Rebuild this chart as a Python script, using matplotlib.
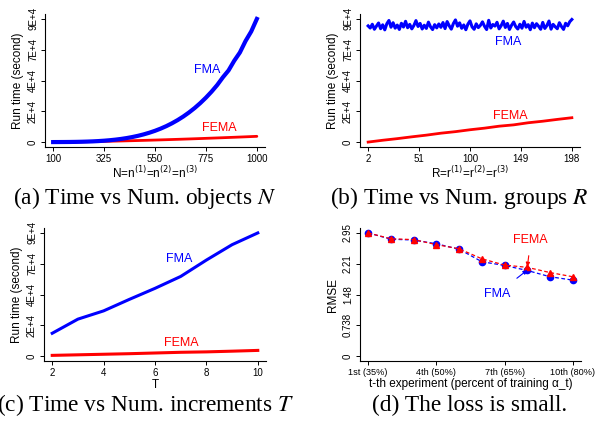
#! /usr/bin/env python3

# Run time and RMSE comparison of FMA vs FEMA, four panels in R base style

import numpy as np
import matplotlib
matplotlib.use("Agg")
import matplotlib.pyplot as plt

plt.rcParams['font.family'] = ['Liberation Sans', 'DejaVu Sans']

BLUE = "#0000ff"
RED = "#ff0000"

# ---- data -----------------------------------------------------------------
time_ticks = [0, 22000, 44000, 66000, 88000]
time_labels = ["0", "2E+4", "4E+4", "7E+4", "9E+4"]

# (a) time vs number of objects N
n_fma = list(range(100, 1001, 25))
fma_a = [0, 20, 45, 80, 140, 225, 345, 500, 710, 980, 1320, 1740, 2250,
         2870, 3610, 4480, 5500, 6690, 8050, 9620, 11400, 13430, 15710,
         18260, 21130, 24300, 27840, 31740, 36040, 40800, 46300, 51200,
         58100, 64000, 72200, 79000, 88000]
n_fema = list(range(100, 1001, 50))
fema_a = [0, 54, 152, 280, 430, 600, 790, 995, 1215, 1450, 1700, 1960,
          2230, 2515, 2815, 3120, 3435, 3760, 4100]
n_ticks = [100, 325, 550, 775, 1000]

# (b) time vs number of groups R
r_fma = list(range(2, 199, 2))
fma_b = [83000, 81500, 84200, 80600, 82900, 85100, 81000, 83800, 80200,
         84600, 86900, 82100, 85300, 81400, 83600, 80500, 84900, 82200,
         86300, 81700, 84100, 80900, 83300, 86800, 82600, 84800, 80800,
         83500, 81200, 85700, 82400, 80400, 83900, 81600, 84400, 82000,
         85400, 81100, 86100, 83100, 80700, 84700, 87300, 82800, 85200,
         81300, 83700, 80300, 84300, 86600, 82300, 80600, 84500, 81800,
         83400, 85900, 82700, 80400, 87000, 81500, 84000, 82900, 85600,
         80900, 83200, 86400, 81900, 84800, 80500, 83500, 85800, 82500,
         80800, 84200, 81400, 86200, 82100, 83900, 80300, 85000, 81700,
         84600, 82800, 80600, 85500, 81200, 83300, 86500, 80700, 84100,
         82400, 81000, 85300, 82600, 80500, 84900, 83100, 86000, 87600]
r_fema = list(range(2, 199, 14))
fema_b = [0, 1300, 2450, 3750, 4950, 6350, 7450, 8800, 9950, 11350,
          12300, 13800, 14900, 16200, 17400]
r_ticks = [2, 51, 100, 149, 198]

# (c) time vs number of increments T
t_vals = [2, 3, 4, 5, 6, 7, 8, 9, 10]
fma_c = [16300, 26400, 32300, 40500, 48400, 56900, 68600, 79600, 88000]
fema_c = [500, 900, 1300, 1700, 2200, 2700, 3000, 3500, 4050]

# (d) RMSE per experiment
exp_idx = [1, 2, 3, 4, 5, 6, 7, 8, 9, 10]
rmse_fema = [2.95, 2.81, 2.79, 2.67, 2.57, 2.33, 2.18, 2.125, 2.00, 1.90]
rmse_fma = [2.95, 2.80, 2.78, 2.69, 2.56, 2.26, 2.17, 2.05, 1.90, 1.82]
rmse_ticks = [0, 0.7375, 1.475, 2.2125, 2.95]
rmse_labels = ["0", "0.738", "1.48", "2.21", "2.95"]
exp_ticks = [1, 4, 7, 10]
exp_labels = ["1st (35%)", "4th (50%)", "7th (65%)", "10th (80%)"]

captions = [r"(a) Time vs Num. objects $N$",
            r"(b) Time vs Num. groups $R$",
            r"(c) Time vs Num. increments $T$",
            r"(d) The loss is small."]

# ---- figure ---------------------------------------------------------------
W, H = 595, 426
fig = plt.figure(figsize=(W / 100, H / 100), dpi=100)


def make_axes(left, right, top, bottom):
    # pixel box -> figure fraction
    ax = fig.add_axes([left / W, 1 - bottom / H, (right - left) / W,
                       (bottom - top) / H])
    for s in ("top", "right"):
        ax.spines[s].set_visible(False)
    for s in ("left", "bottom"):
        ax.spines[s].set_linewidth(0.8)
    ax.tick_params(direction="out", length=3, width=0.7, labelsize=7,
                   pad=2)
    return ax


def pad(lo, hi):
    d = (hi - lo) * 0.04
    return lo - d, hi + d


def time_axis(ax):
    ax.set_ylim(*pad(0, 88000))
    ax.set_yticks(time_ticks)
    ax.set_yticklabels(time_labels, rotation=90, va="center")
    ax.set_ylabel("Run time (second)", fontsize=8.5, labelpad=3)


# (a)
ax = make_axes(45, 265, 14, 147)
ax.plot(n_fema, fema_a, color=RED, lw=2.0, solid_capstyle="round")
ax.plot(n_fma, fma_a, color=BLUE, lw=3.0, solid_joinstyle="round")
ax.set_xlim(*pad(100, 1000))
ax.set_xticks(n_ticks)
time_axis(ax)
ax.set_xlabel(r"N=n$^{(1)}$=n$^{(2)}$=n$^{(3)}$", fontsize=8.5, labelpad=1,
              math_fontfamily="dejavusans")
ax.text(779, 51500, "FMA", color=BLUE, fontsize=9, ha="center", va="center")
ax.text(832, 10000, "FEMA", color=RED, fontsize=9, ha="center", va="center")

# (b)
ax = make_axes(360, 580, 14, 147)
ax.plot(r_fma, fma_b, color=BLUE, lw=2.2, solid_joinstyle="round")
ax.plot(r_fema, fema_b, color=RED, lw=2.0)
ax.set_xlim(*pad(2, 198))
ax.set_xticks(r_ticks)
time_axis(ax)
ax.set_xlabel(r"R=r$^{(1)}$=r$^{(2)}$=r$^{(3)}$", fontsize=8.5, labelpad=1,
              math_fontfamily="dejavusans")
ax.text(137, 71500, "FMA", color=BLUE, fontsize=9, ha="center", va="center")
ax.text(139, 18600, "FEMA", color=RED, fontsize=9, ha="center", va="center")

# (c)
ax = make_axes(44, 266, 228, 361)
ax.plot(t_vals, fma_c, color=BLUE, lw=2.2)
ax.plot(t_vals, fema_c, color=RED, lw=2.2)
ax.set_xlim(*pad(2, 10))
ax.set_xticks([2, 4, 6, 8, 10])
time_axis(ax)
ax.set_xlabel("T", fontsize=8.5, labelpad=1)
ax.text(6.96, 69400, "FMA", color=BLUE, fontsize=9, ha="center", va="center")
ax.text(7.04, 9300, "FEMA", color=RED, fontsize=9, ha="center", va="center")

# (d)
ax = make_axes(360, 581, 228, 361)
ax.plot(exp_idx, rmse_fma, color=BLUE, lw=0.9, ls=(0, (3, 2)),
        marker="o", ms=4.5, mec=BLUE, mfc=BLUE)
ax.plot(exp_idx, rmse_fema, color=RED, lw=0.9, ls=(0, (3, 2)),
        marker="^", ms=5, mec=RED, mfc=RED)
ax.set_xlim(*pad(1, 10))
ax.set_ylim(*pad(0, 2.95))
ax.set_xticks(exp_ticks)
ax.set_xticklabels(exp_labels, fontsize=6.6)
ax.set_yticks(rmse_ticks)
ax.set_yticklabels(rmse_labels, rotation=90, va="center")
ax.set_ylabel("RMSE", fontsize=8.5, labelpad=3)
ax.set_xlabel("t-th experiment (percent of training α_t)", fontsize=8.5,
              labelpad=1)
ax.annotate("FEMA", xy=(8, 2.14), xytext=(8.15, 2.78), color=RED,
            fontsize=9, ha="center", va="center",
            arrowprops=dict(arrowstyle="-|>", color=RED, lw=0.8,
                            mutation_scale=6, shrinkA=5, shrinkB=0))
ax.annotate("FMA", xy=(8, 2.06), xytext=(6.66, 1.49), color=BLUE,
            fontsize=9, ha="center", va="center",
            arrowprops=dict(arrowstyle="-|>", color=BLUE, lw=0.8,
                            mutation_scale=6, shrinkA=8, shrinkB=0))

# captions under each panel
cap_pos = [(145, 198), (459, 198), (146, 405), (470, 405)]
for (cx, cy), cap in zip(cap_pos, captions):
    fig.text(cx / W, 1 - cy / H, cap, fontsize=16.8, ha="center",
             va="center", family="Liberation Serif", math_fontfamily="stix")

fig.savefig("out.png", dpi=100)
